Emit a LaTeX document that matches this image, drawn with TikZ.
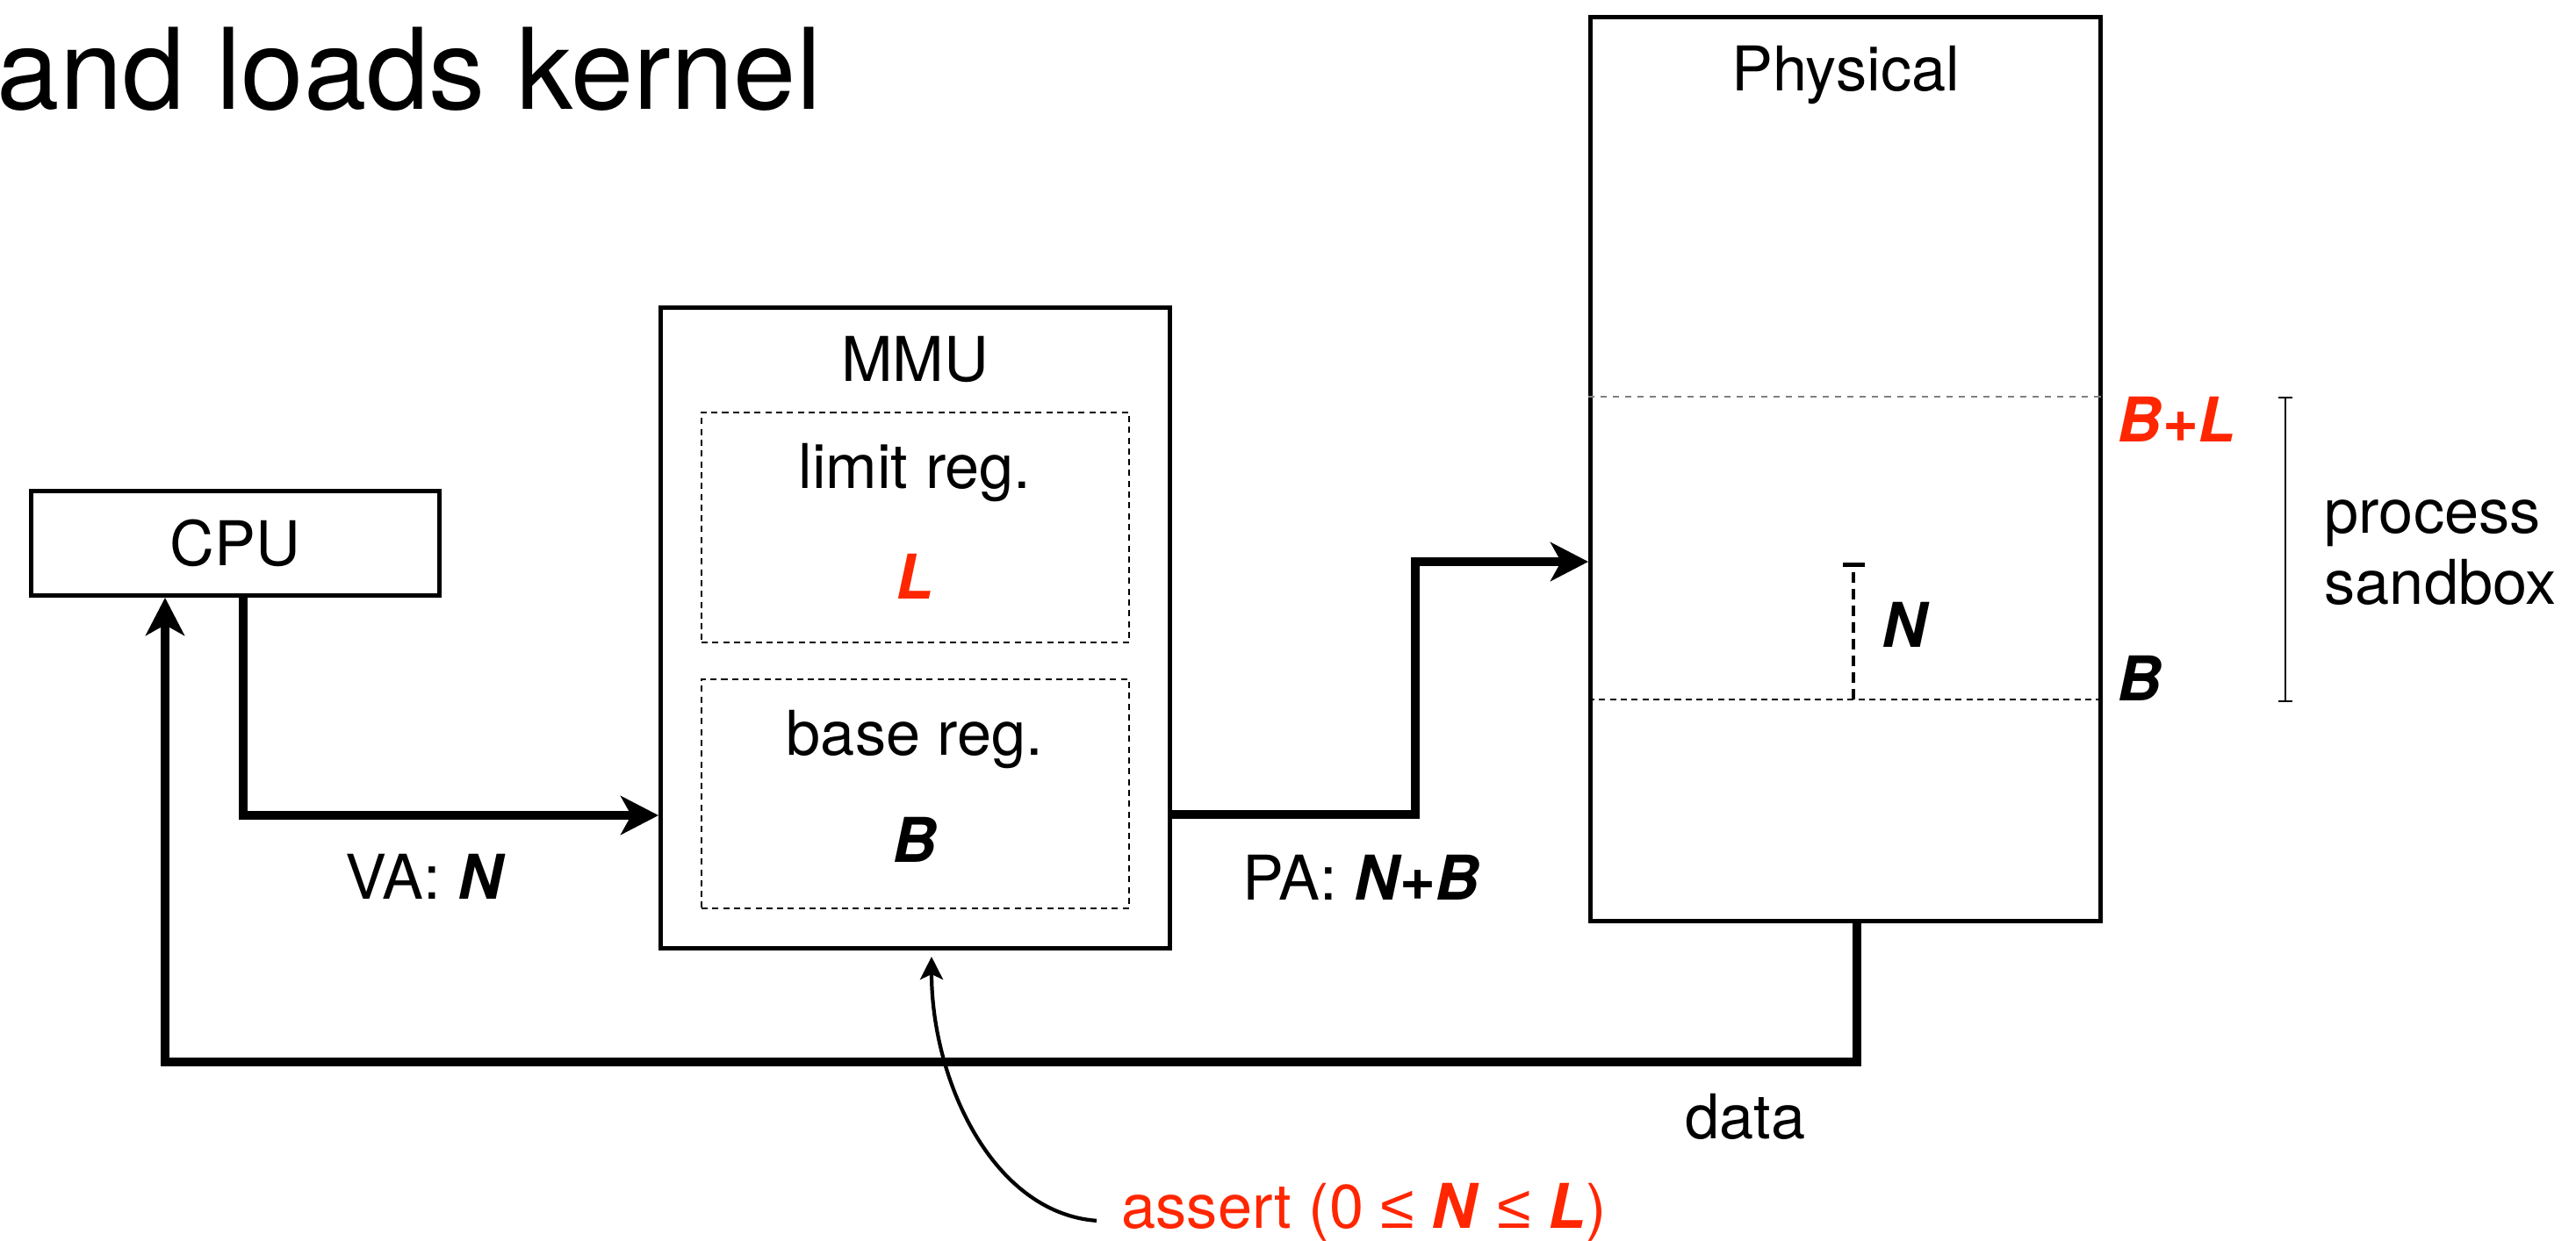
\documentclass[tikz,border=0pt]{standalone}
\usepackage{fontspec}
\setmainfont{TeX Gyre Heros}
\newfontfamily\symfont{Liberation Sans}
\usetikzlibrary{arrows.meta}
\definecolor{keyred}{RGB}{255,38,0}
\newcommand{\bvar}[1]{\textbf{\textit{#1}}}

\begin{document}
\begin{tikzpicture}[
    box/.style={draw, line width=1.4pt, inner sep=0, font=\fontsize{20}{23}\selectfont},
    reg/.style={draw, line width=0.7pt, dash pattern=on 2pt off 1.5pt, inner sep=0},
    lbl/.style={inner sep=0, font=\fontsize{20}{23}\selectfont},
    flow/.style={line width=2.8pt, -{Stealth[length=0.43cm,width=0.44cm,inset=0.12cm]}},
  ]
    \useasboundingbox (0,0) rectangle (29.34,-14.13);

    \node [anchor=base west, inner sep=0, font=\fontsize{36.5}{41}\selectfont] (title) at (-0.04,-1.24) {and loads kernel};

    % boxes
    \node [box, minimum width=4.65cm, minimum height=1.19cm] (cpu) at (2.68,-6.19) {CPU};
    \node [box, minimum width=5.80cm, minimum height=7.30cm] (mmu) at (10.425,-7.155) {};
    \node [reg, minimum width=4.87cm, minimum height=2.62cm] (limit) at (10.425,-6.01) {};
    \node [reg, minimum width=4.87cm, minimum height=2.61cm] (base) at (10.425,-9.045) {};
    \node [box, minimum width=5.81cm, minimum height=10.30cm] (phys) at (21.02,-5.345) {};

    \node [lbl, anchor=base] (mmulbl) at (10.42,-4.34) {MMU};
    \node [lbl, anchor=base] (limlbl) at (10.42,-5.56) {limit reg.};
    \node [lbl, anchor=base, text=keyred] (lval) at (10.42,-6.82) {\bvar{L}};
    \node [lbl, anchor=base] (baselbl) at (10.42,-8.60) {base reg.};
    \node [lbl, anchor=base] (bval) at (10.42,-9.82) {\bvar{B}};
    \node [lbl, anchor=base] (physlbl) at (21.02,-1.03) {Physical};

    % process region
    \coordinate (blim) at (0,-4.52);
    \coordinate (bbase) at (0,-7.97);
    \draw [gray, line width=0.6pt, dash pattern=on 2pt off 2pt] (phys.west |- blim) -- (phys.east |- blim);
    \draw [line width=0.6pt, dash pattern=on 2pt off 1.5pt] (phys.west |- bbase) -- (phys.east |- bbase);
    \node [lbl, anchor=base west, text=keyred] (bllbl) at (24.11,-5.03) {\bvar{B+L}};
    \node [lbl, anchor=base west] (blbl) at (24.11,-7.98) {\bvar{B}};
    \draw [line width=0.6pt, {Bar[width=0.16cm]}-{Bar[width=0.16cm]}] (26.03,-4.52) -- (26.03,-8.0);
    \node [lbl, anchor=base west] (proc) at (26.47,-6.07) {process};
    \node [lbl, anchor=base west] (sbox) at (26.47,-6.88) {sandbox};

    % offset N
    \coordinate (ntop) at (21.11,-6.41);
    \draw [line width=1.3pt, dash pattern=on 0.12cm off 0.07cm, -{Bar[width=0.25cm]}] (ntop |- bbase) -- (ntop);
    \node [lbl, anchor=base west] (nlbl) at (21.43,-7.37) {\bvar{N}};

    % connectors
    \coordinate (vabend) at (2.77,-9.29);
    \draw [flow] (cpu.south -| vabend) -- (vabend) -- (vabend -| mmu.west);
    \node [lbl, anchor=base] (valbl) at (4.85,-10.24) {VA: \bvar{N}};

    \coordinate (pabend1) at (16.12,-9.28);
    \coordinate (pabend2) at (16.12,-6.40);
    \draw [flow] (mmu.east |- pabend1) -- (pabend1) -- (pabend2) -- (pabend2 -| phys.west);
    \node [lbl, anchor=base] (palbl) at (15.50,-10.25) {PA: \bvar{N+B}};

    \coordinate (databend1) at (21.15,-12.10);
    \coordinate (databend2) at (1.88,-12.10);
    \draw [flow] (phys.south -| databend1) -- (databend1) -- (databend2) -- (databend2 |- cpu.south);
    \node [lbl, anchor=base] (datalbl) at (19.88,-12.97) {data};

    % bounds check
    \node [lbl, anchor=base west, text=keyred] (assertlbl) at (12.77,-13.99)
        {assert (0 {\symfont ≤} \bvar{N} {\symfont ≤} \bvar{L})};
    \coordinate (chk) at (10.61,-10.90);
    \draw [line width=1.2pt, -{Stealth[length=0.26cm,width=0.26cm,inset=0.06cm]}]
        ([xshift=-2.8mm,yshift=-1mm]assertlbl.west) .. controls (11.3,-13.82) and (10.61,-12.3) .. (chk);
\end{tikzpicture}
\end{document}
